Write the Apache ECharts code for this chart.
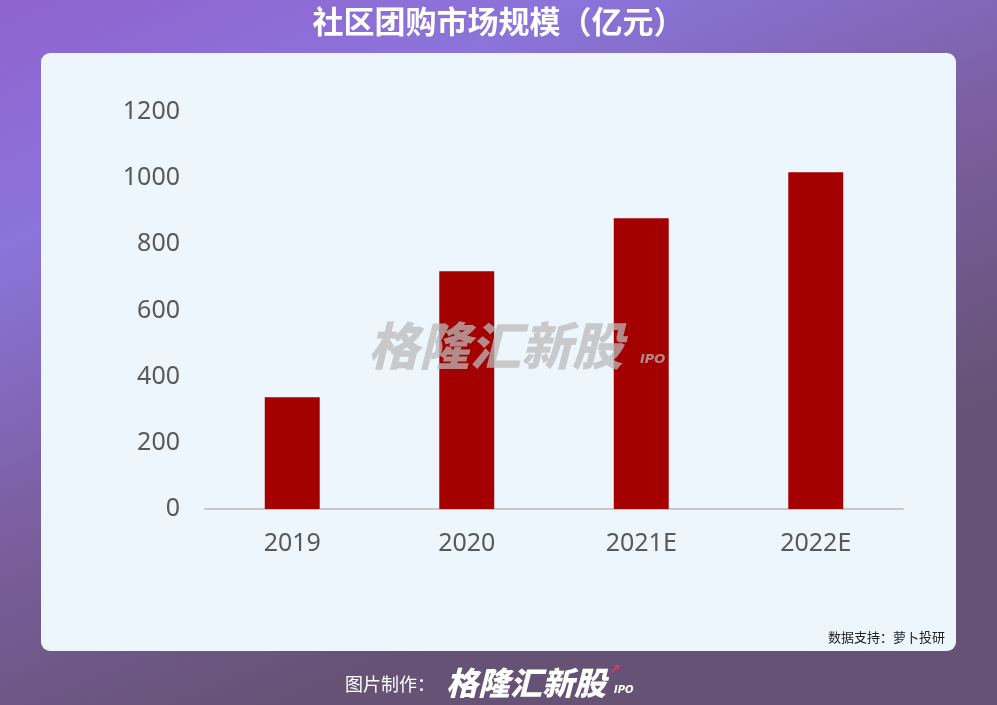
<!DOCTYPE html>
<html>
<head>
<meta charset="utf-8">
<script src="https://cdn.jsdelivr.net/npm/echarts@6/dist/echarts.min.js"></script>
<style>
  html, body { margin: 0; padding: 0; }
  #chart { width: 997px; height: 705px; }
</style>
</head>
<body>
<div id="chart"></div>
<script>
const categories = ['2019', '2020', '2021E', '2022E']
const marketSize = [338, 719, 879, 1018]
const yTicks = { min: 0, max: 1200, interval: 200 }

const myChart = echarts.init(document.getElementById('chart'))
myChart.setOption({
  animation: false,
  textStyle: { fontFamily: 'Noto Sans CJK SC' },
  grid: { left: 205, right: 94, top: 112, bottom: 196 },
  graphic: [
    {
      type: 'rect', z: -10, silent: true,
      shape: { x: 0, y: 0, width: 997, height: 705 },
      style: {
        fill: new echarts.graphic.LinearGradient(0, 0, 0.3, 1, [
          { offset: 0, color: '#9063cf' },
          { offset: 0.3, color: '#8b74da' },
          { offset: 0.65, color: '#7a5e9e' },
          { offset: 1, color: '#655274' }
        ])
      }
    },
    {
      type: 'rect', z: -9, silent: true,
      shape: { x: 41, y: 53, width: 915, height: 598, r: 9 },
      style: { fill: '#eef6fd' }
    },
    {
      type: 'text', left: 'center', top: 6,
      style: { text: '社区团购市场规模（亿元）', fill: '#ffffff', font: 'bold 31px "Noto Sans CJK SC"' }
    },
    {
      type: 'text', x: 945, y: 637, z: 5,
      style: { text: '数据支持：萝卜投研', fill: '#222222', font: '13px "Noto Sans CJK SC"', align: 'right', verticalAlign: 'middle' }
    },
    {
      type: 'text', x: 368, y: 346, z: 10, silent: true,
      style: { text: '格隆汇新股', fill: 'rgba(185,185,185,0.75)', font: 'italic 900 51px "Noto Sans CJK SC"', verticalAlign: 'middle' }
    },
    {
      type: 'text', x: 640, y: 360, z: 10, silent: true,
      style: { text: 'IPO', fill: 'rgba(185,185,185,0.75)', font: 'italic bold 13px "DejaVu Sans"', verticalAlign: 'middle' }
    },
    {
      type: 'text', x: 345, y: 684,
      style: { text: '图片制作：', fill: '#ffffff', font: '18px "Noto Sans CJK SC"', verticalAlign: 'middle' }
    },
    {
      type: 'text', x: 446, y: 683,
      style: { text: '格隆汇新股', fill: '#ffffff', font: 'italic 900 32px "Noto Sans CJK SC"', verticalAlign: 'middle' }
    },
    {
      type: 'text', x: 609, y: 670,
      style: { text: '↗', fill: '#e23a78', font: 'bold 14px "DejaVu Sans"', verticalAlign: 'middle' }
    },
    {
      type: 'text', x: 614, y: 690,
      style: { text: 'IPO', fill: '#ffffff', font: 'italic bold 10px "DejaVu Sans"', verticalAlign: 'middle' }
    }
  ],
  xAxis: {
    type: 'category',
    data: categories,
    axisLine: { lineStyle: { color: '#c8c8c8', width: 2 } },
    axisTick: { show: false },
    axisLabel: { color: '#595959', fontSize: 25, margin: 22, fontFamily: 'Noto Sans' }
  },
  yAxis: {
    type: 'value',
    min: yTicks.min,
    max: yTicks.max,
    interval: yTicks.interval,
    splitLine: { show: false },
    axisLine: { show: false },
    axisTick: { show: false },
    axisLabel: { color: '#595959', fontSize: 25, margin: 25, fontFamily: 'Noto Sans', formatter: v => String(v) }
  },
  series: [
    {
      type: 'bar',
      data: marketSize,
      barWidth: '31.5%',
      itemStyle: { color: '#a50000' }
    }
  ]
})
</script>
</body>
</html>
